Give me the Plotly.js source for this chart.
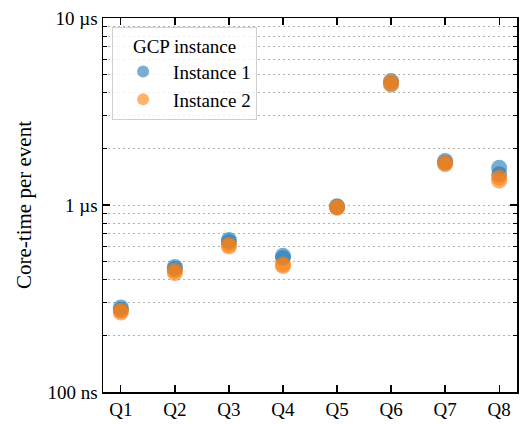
<!DOCTYPE html>
<html>
<head>
<meta charset="utf-8">
<script src="https://cdn.plot.ly/plotly-3.0.1.min.js"></script>
<style>html,body{margin:0;padding:0;background:#fff;}#chart{width:521px;height:424px;}</style>
</head>
<body>
<div id="chart"></div>
<script>
// Values in nanoseconds (core-time per event), several runs per query
const queries = ["Q1","Q2","Q3","Q4","Q5","Q6","Q7","Q8"];
const inst1Cats = ["Q1","Q1","Q2","Q2","Q3","Q3","Q4","Q4","Q5","Q5","Q6","Q6","Q7","Q7","Q8","Q8"];
const inst1Vals = [283,275, 466,455, 650,635, 535,520, 985,975, 4600,4450, 1720,1680, 1580,1460];
const inst2Cats = ["Q1","Q1","Q2","Q2","Q3","Q3","Q4","Q4","Q5","Q5","Q6","Q6","Q7","Q7","Q8","Q8"];
const inst2Vals = [272,266, 445,432, 612,600, 480,472, 975,965, 4550,4400, 1680,1650, 1400,1350];
const yTickVals = [100, 1000, 10000];
const yTickText = ["100 ns", "1 \u00b5s", "10 \u00b5s"];
const yMinorVals = [200,300,400,500,600,700,800,900,2000,3000,4000,5000,6000,7000,8000,9000];

const font = "'Liberation Serif', 'Times New Roman', serif";
const traces = [
  {type:"scatter", mode:"markers", name:"Instance 1", x:inst1Cats, y:inst1Vals,
   marker:{color:"rgba(31,119,180,0.6)", size:16, line:{width:0}}},
  {type:"scatter", mode:"markers", name:"Instance 2", x:inst2Cats, y:inst2Vals,
   marker:{color:"rgba(255,127,14,0.6)", size:16, line:{width:0}}}
];
const layout = {
  width:521, height:424,
  margin:{l:103, r:4, t:18, b:32},
  paper_bgcolor:"#fff", plot_bgcolor:"#fff",
  font:{family:font, size:19, color:"#000"},
  showlegend:true,
  legend:{
    x:0.022, y:0.976, xanchor:"left", yanchor:"top",
    bgcolor:"rgba(255,255,255,0.8)", bordercolor:"#d0d0d0", borderwidth:1,
    title:{text:"GCP instance", side:"top center", font:{family:font, size:19}},
    font:{family:font, size:19}, itemsizing:"constant", itemwidth:50, tracegroupgap:0
  },
  xaxis:{
    type:"category", categoryorder:"array", categoryarray:queries,
    range:[-0.33, 7.33],
    showline:true, linecolor:"#000", linewidth:1.5, mirror:"ticks",
    ticks:"inside", ticklen:7, tickwidth:1.3, tickcolor:"#000",
    showgrid:false, zeroline:false,
    tickfont:{family:font, size:19}
  },
  yaxis:{
    type:"log", range:[2, 4],
    tickmode:"array", tickvals:yTickVals, ticktext:yTickText,
    showline:true, linecolor:"#000", linewidth:1.5, mirror:"ticks",
    ticks:"inside", ticklen:7, tickwidth:1.3, tickcolor:"#000",
    showgrid:true, gridcolor:"#b0b0b0", gridwidth:1, griddash:"2px,3px",
    zeroline:false,
    tickfont:{family:font, size:19},
    title:{text:"Core-time per event", font:{family:font, size:21}, standoff:10},
    minor:{tickmode:"array", tickvals:yMinorVals, ticks:"inside", ticklen:4, tickwidth:1, tickcolor:"#000",
           showgrid:true, gridcolor:"#b0b0b0", gridwidth:1, griddash:"2px,3px"}
  }
};
Plotly.newPlot("chart", traces, layout, {displayModeBar:false, staticPlot:true});
</script>
</body>
</html>
